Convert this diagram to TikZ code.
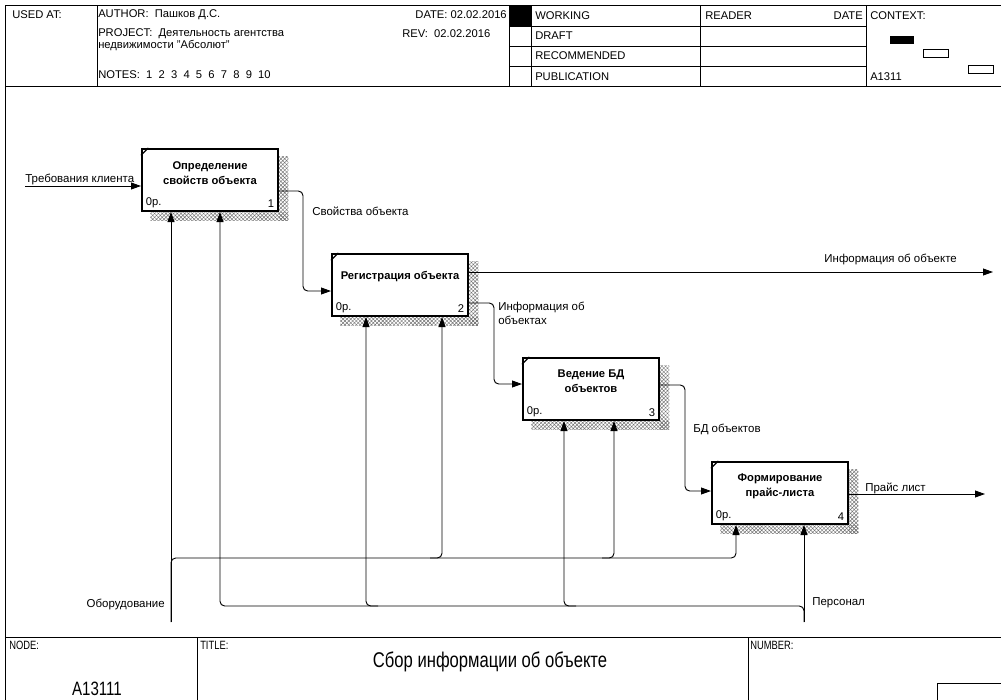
\documentclass[tikz,border=0pt]{standalone}
\usepackage{fontspec}
\setmainfont{Liberation Sans}
\newfontfamily\narrowfont[FakeStretch=0.78]{Liberation Sans}
\usetikzlibrary{arrows.meta,patterns.meta}
\pgfdeclarelayer{paper}
\pgfdeclarelayer{bg}
\pgfsetlayers{paper,bg,main}

\begin{document}
\begin{tikzpicture}[x=0.75pt,y=-0.75pt,
  rule/.style={line width=0.7pt},
  hdr/.style={font=\fontsize{8.4}{10}\selectfont, inner sep=0pt, anchor=west},
  fn/.style={draw, line width=1.5pt, fill=white, minimum width=102pt, minimum height=46.5pt, inner sep=0pt},
  fntitle/.style={font=\bfseries\fontsize{8.4}{10.8}\selectfont, align=center, inner sep=0pt},
  fnnote/.style={font=\fontsize{8.4}{10}\selectfont, inner sep=0pt},
  hatch/.style={pattern={Hatch[angle=45,distance=2pt,line width=0.35pt]}, pattern color=black!55},
  flow/.style={line width=0.7pt, rounded corners=3.5pt, -{Triangle[length=7.5pt,width=5.2pt]}},
  lbl/.style={font=\fontsize{8.6}{10.5}\selectfont, inner sep=0pt},
  narrowlbl/.style={font=\narrowfont\fontsize{9}{10.5}\selectfont, inner sep=0pt}
]
\useasboundingbox (0,0) rectangle (1001,700);
\begin{pgfonlayer}{paper}
\fill[white] (0,0) rectangle (1001,700);
\end{pgfonlayer}

% ---------- frame and header ----------
\draw[rule] (1001,5) -- (5,5) -- (5,700);
\draw[rule] (5,86) -- (1001,86);
\foreach \x in {97,509,531,700,866} \draw[rule] (\x,5) -- (\x,86);
\foreach \y in {26,46,66} \draw[rule] (509,\y) -- (866,\y);
\fill (509,5) rectangle (531,26);

\node[hdr] (usedat) at (12,15) {USED AT:};
\node[hdr] (author) at (98,15) {AUTHOR:\ \ Пашков Д.С.};
\node[hdr] (project) at (98,34) {PROJECT:\ \ Деятельность агентства};
\node[hdr] (project2) at (98,46) {недвижимости "Абсолют"};
\node[hdr] (notes) at (98,75) {NOTES:\ \ 1\ \ 2\ \ 3\ \ 4\ \ 5\ \ 6\ \ 7\ \ 8\ \ 9\ \ 10};
\node[hdr, anchor=east] (date) at (507,15) {DATE: 02.02.2016};
\node[hdr] (rev) at (402,34) {REV:\ \ 02.02.2016};
\node[hdr] (working) at (535,15.5) {WORKING};
\node[hdr] (draft) at (535,36) {DRAFT};
\node[hdr] (recommended) at (535,56) {RECOMMENDED};
\node[hdr] (publication) at (535,76.5) {PUBLICATION};
\node[hdr] (reader) at (705,15.5) {READER};
\node[hdr, anchor=east] (rdate) at (863,15.5) {DATE};
\node[hdr] (context) at (870,15.5) {CONTEXT:};
\node[hdr] (ctxnode) at (870,77) {A1311};
\fill (890,36) rectangle (914,44);
\draw[line width=0.6pt] (923,49) rectangle (948,57);
\draw[line width=0.6pt] (968,65) rectangle (993,73);

% ---------- footer ----------
\draw[rule] (5,637) -- (1001,637);
\draw[rule] (197,637) -- (197,700);
\draw[rule] (748,637) -- (748,700);
\draw[rule] (1001,683) -- (937,683) -- (937,700);
\node[narrowlbl, anchor=west] (nodelbl) at (9,645) {NODE:};
\node[narrowlbl, anchor=west] (titlelbl) at (200,645) {TITLE:};
\node[narrowlbl, anchor=west] (numberlbl) at (750,645) {NUMBER:};
\node[font=\narrowfont\fontsize{16}{18}\selectfont, inner sep=0pt] (title) at (490,662) {Сбор информации об объекте};
\node[font=\narrowfont\fontsize{14.5}{17}\selectfont, inner sep=0pt, anchor=base] (nodeid) at (97,695) {A13111};

% ---------- activity boxes ----------
\node[fn] (b1) at (210,180) {};
\node[fn] (b2) at (400,285) {};
\node[fn] (b3) at (591,389) {};
\node[fn] (b4) at (780,493) {};

\begin{pgfonlayer}{bg}
\foreach \b in {b1,b2,b3,b4}{
  \fill[hatch] ([yshift=-6pt]\b.north east) rectangle ([xshift=7pt,yshift=-6pt]\b.south east);
  \fill[hatch] ([xshift=7pt]\b.south west) rectangle ([xshift=7pt,yshift=-6pt]\b.south east);
}
\end{pgfonlayer}

\foreach \b/\n in {b1/1,b2/2,b3/3,b4/4}{
  \draw[line width=0.9pt] ([yshift=-5.5pt]\b.north west) -- ([xshift=5.5pt]\b.north west);
  \node[fnnote, anchor=south west] (\b-cost) at ([xshift=3.5pt,yshift=3pt]\b.south west) {0р.};
  \node[fnnote, anchor=south east] (\b-num) at ([xshift=-3.5pt,yshift=3pt]\b.south east) {\n};
}

\node[fntitle] (t1) at ([yshift=5pt]b1.center) {Определение\\свойств объекта};
\node[fntitle] (t2) at ([yshift=6pt]b2.center) {Регистрация объекта};
\node[fntitle] (t3) at ([yshift=6pt]b3.center) {Ведение БД\\объектов};
\node[fntitle] (t4) at ([yshift=5pt]b4.center) {Формирование\\прайс-листа};

% ---------- inputs and outputs ----------
\coordinate (req) at (25,186);
\draw[flow] (req) -- (b1.west |- req);
\node[lbl, anchor=base west] (reqlbl) at (25,182) {Требования клиента};

\draw[flow] (b1.east |- 0,191) -- (303,191) -- (303,291) -- (b2.west |- 0,291);
\node[lbl, anchor=base west] (l12) at (312,215) {Свойства объекта};

\coordinate (infoout) at (993,272);
\draw[flow] (b2.east |- infoout) -- (infoout);
\node[lbl, anchor=base east] (infolbl) at (957,262) {Информация об объекте};

\draw[flow] (b2.east |- 0,303) -- (494,303) -- (494,384) -- (b3.west |- 0,384);
\node[lbl, anchor=base west, align=left] (l23) at (498,324) {Информация об\\объектах};

\draw[flow] (b3.east |- 0,385) -- (685,385) -- (685,491) -- (b4.west |- 0,491);
\node[lbl, anchor=base west] (l34) at (693,432) {БД объектов};

\coordinate (priceout) at (985,494);
\draw[flow] (b4.east |- priceout) -- (priceout);
\node[lbl, anchor=base west] (pricelbl) at (865,491) {Прайс лист};

% ---------- mechanisms ----------
\coordinate (equip) at (171,622);
\coordinate (staff) at (804,622);
\node[lbl, anchor=base east] (equiplbl) at (165,607) {Оборудование};
\node[lbl, anchor=base west] (stafflbl) at (812,605) {Персонал};

\draw[flow] (equip) -- (equip |- b1.south);
\draw[flow] (equip) -- (171,558) -- (736,558) -- (736 ,0 |- b4.south);
\draw[flow] (430,558) -- (442,558) -- (442,0 |- b2.south);
\draw[flow] (602,558) -- (614,558) -- (614,0 |- b3.south);

\draw[flow] (staff) -- (staff |- b4.south);
\draw[flow] (staff) -- (804,606) -- (220,606) -- (220,0 |- b1.south);
\draw[flow] (378,606) -- (366,606) -- (366,0 |- b2.south);
\draw[flow] (576,606) -- (564,606) -- (564,0 |- b3.south);
\end{tikzpicture}
\end{document}
